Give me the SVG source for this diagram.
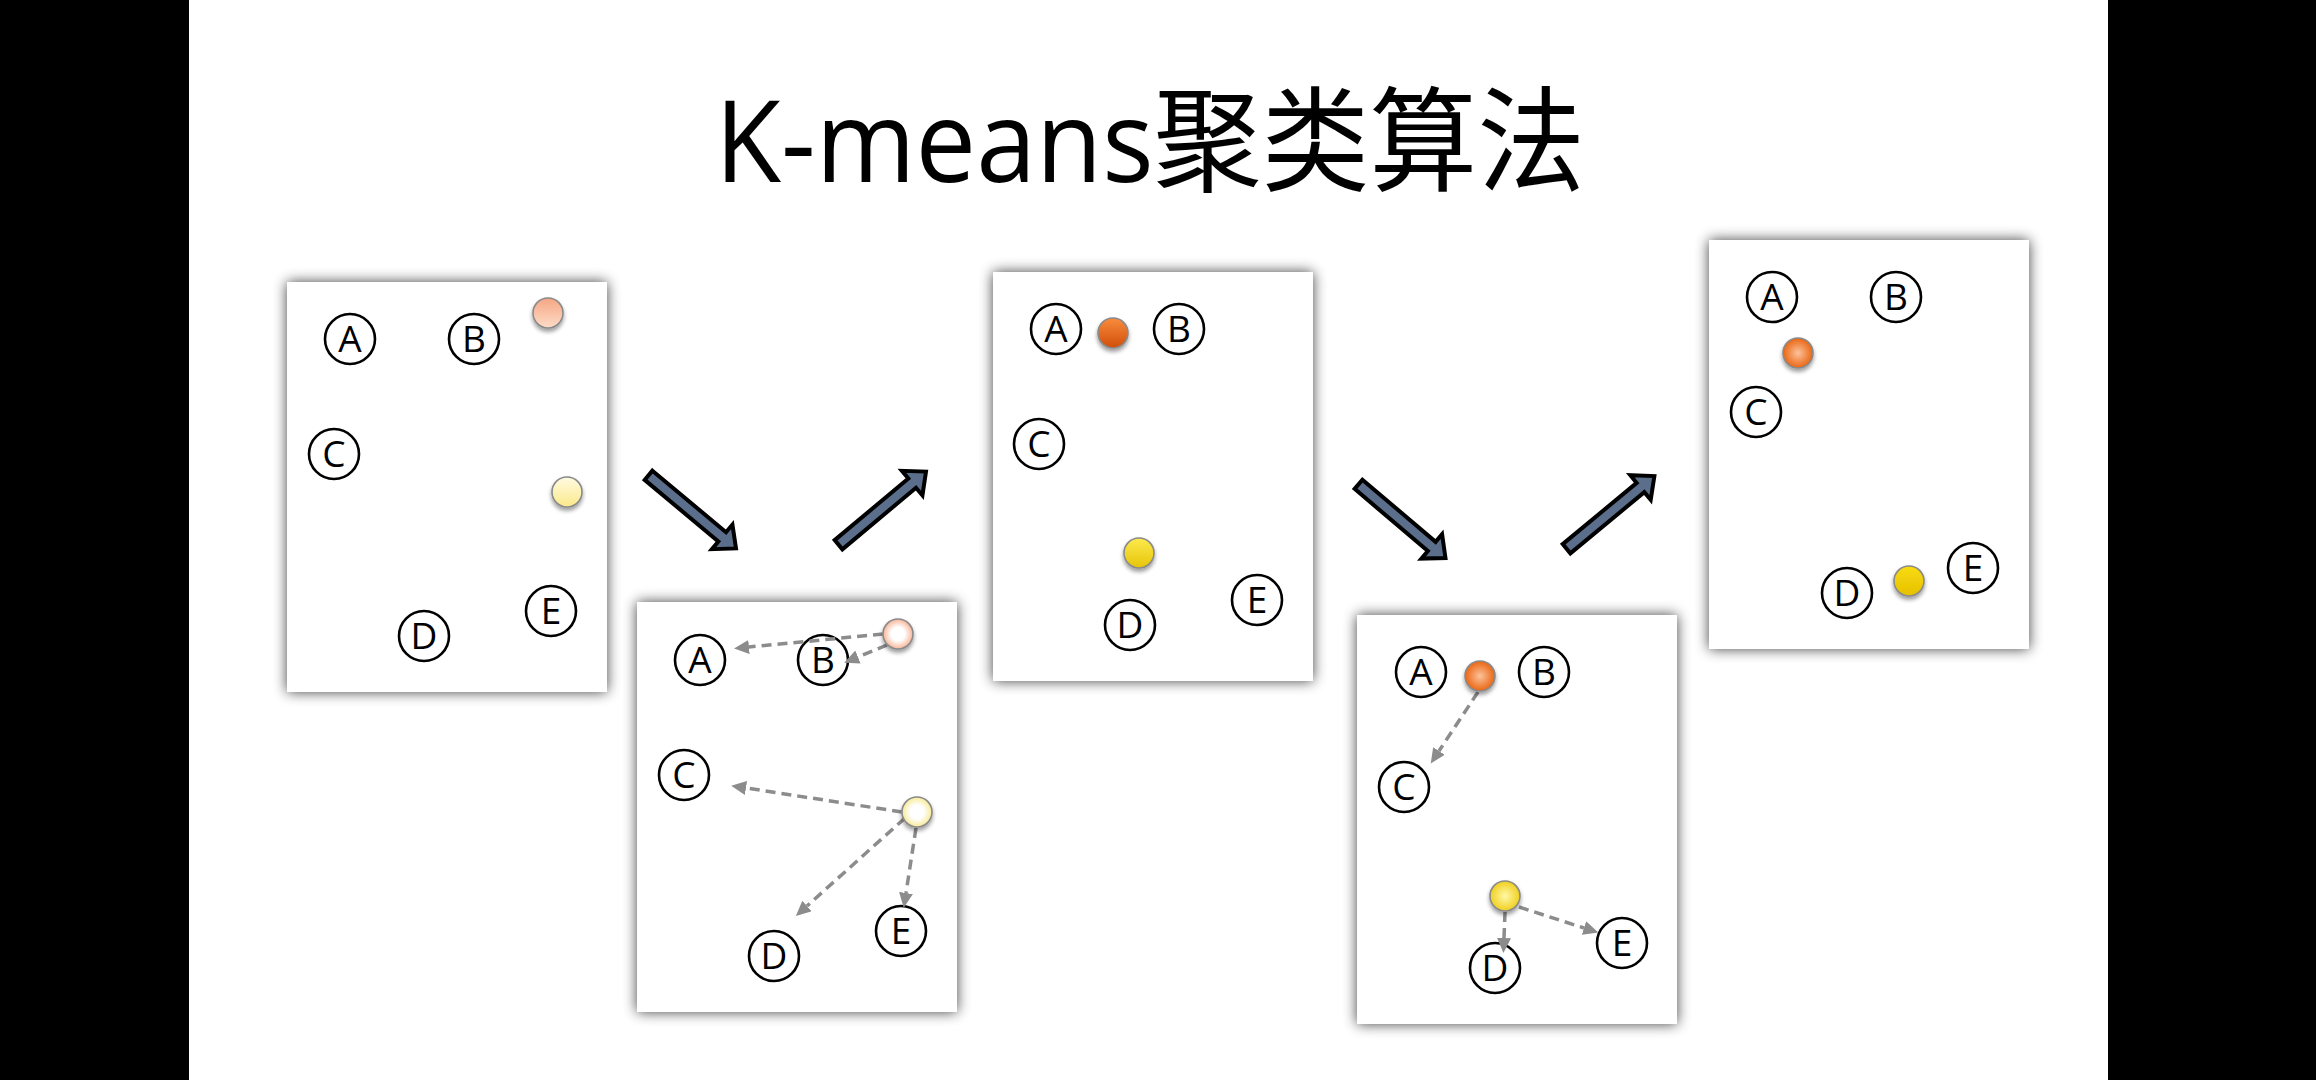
<svg xmlns="http://www.w3.org/2000/svg" width="2316" height="1080" viewBox="0 0 2316 1080">
<defs>
<style>
.panel{fill:#ffffff;filter:url(#pshadow)}
.pt circle{fill:#ffffff;stroke:#000;stroke-width:2.6}
.pt text{font-family:"Open Sans","DejaVu Sans",sans-serif;font-size:37px;fill:#000;text-anchor:middle}
.ball{stroke:#8a8a8a;stroke-width:1.6;filter:url(#bshadow)}
.dash{stroke:#8c8c8c;stroke-width:3.5;stroke-dasharray:10 6;fill:none;marker-end:url(#ah)}
.big{fill:#5b6f8d;stroke:#000;stroke-width:4;stroke-linejoin:miter}
.title{font-family:"Open Sans","Noto Sans CJK SC",sans-serif;font-size:114px;fill:#000;text-anchor:middle}
</style>
<filter id="pshadow" x="-10%" y="-10%" width="120%" height="120%">
<feGaussianBlur in="SourceAlpha" stdDeviation="7"/>
<feComponentTransfer><feFuncA type="linear" slope="0.75"/></feComponentTransfer>
<feMerge><feMergeNode/><feMergeNode in="SourceGraphic"/></feMerge>
</filter>
<filter id="bshadow" x="-50%" y="-50%" width="200%" height="220%">
<feGaussianBlur in="SourceAlpha" stdDeviation="2"/>
<feOffset dy="3"/>
<feComponentTransfer><feFuncA type="linear" slope="0.4"/></feComponentTransfer>
<feMerge><feMergeNode/><feMergeNode in="SourceGraphic"/></feMerge>
</filter>
<marker id="ah" markerUnits="userSpaceOnUse" markerWidth="16" markerHeight="14" refX="0" refY="7" orient="auto">
<path d="M0,0 L15,7 L0,14 z" fill="#8c8c8c"/>
</marker>
<linearGradient id="peachL" x1="0" y1="0" x2="0" y2="1"><stop offset="0" stop-color="#f6a683"/><stop offset="1" stop-color="#fddcc8"/></linearGradient>
<linearGradient id="paleYL" x1="0" y1="0" x2="0" y2="1"><stop offset="0" stop-color="#fffbe2"/><stop offset="1" stop-color="#fbe98a"/></linearGradient>
<radialGradient id="peachR" cx="0.5" cy="0.5" r="0.5"><stop offset="0.45" stop-color="#ffffff"/><stop offset="1" stop-color="#f8b496"/></radialGradient>
<radialGradient id="paleYR" cx="0.5" cy="0.5" r="0.5"><stop offset="0.45" stop-color="#ffffff"/><stop offset="1" stop-color="#f7ea96"/></radialGradient>
<linearGradient id="orangeL" x1="0" y1="0" x2="0" y2="1"><stop offset="0" stop-color="#fa8c3c"/><stop offset="1" stop-color="#d04e0a"/></linearGradient>
<linearGradient id="yellowL" x1="0" y1="0" x2="0" y2="1"><stop offset="0" stop-color="#fcea4c"/><stop offset="1" stop-color="#e6c40a"/></linearGradient>
<radialGradient id="orangeR" cx="0.5" cy="0.5" r="0.5"><stop offset="0" stop-color="#fcc29c"/><stop offset="1" stop-color="#ea6612"/></radialGradient>
<radialGradient id="yellowR" cx="0.5" cy="0.5" r="0.5"><stop offset="0" stop-color="#fff8a8"/><stop offset="1" stop-color="#f0d01e"/></radialGradient>
<linearGradient id="yellowS" x1="0" y1="0" x2="0" y2="1"><stop offset="0" stop-color="#f8dc10"/><stop offset="1" stop-color="#e6c000"/></linearGradient>
</defs>

<rect x="0" y="0" width="2316" height="1080" fill="#ffffff"/>
<rect x="0" y="0" width="189" height="1080" fill="#000"/>
<rect x="2108" y="0" width="208" height="1080" fill="#000"/>

<text id="title" class="title" x="1150" y="182" textLength="870" lengthAdjust="spacingAndGlyphs">K-means聚类算法</text>

<g id="panel1" transform="translate(287,282)">
<rect class="panel" x="0" y="0" width="320" height="410"/>
<g id="p1-A" class="pt"><circle cx="63" cy="57" r="25"/><text x="63" y="70">A</text></g>
<g id="p1-B" class="pt"><circle cx="187" cy="57" r="25"/><text x="187" y="70">B</text></g>
<g id="p1-C" class="pt"><circle cx="47" cy="172" r="25"/><text x="47" y="185">C</text></g>
<g id="p1-D" class="pt"><circle cx="137" cy="354" r="25"/><text x="137" y="367">D</text></g>
<g id="p1-E" class="pt"><circle cx="264" cy="329" r="25"/><text x="264" y="342">E</text></g>
<circle id="p1-k1" class="ball" cx="261" cy="31" r="15" fill="url(#peachL)"/>
<circle id="p1-k2" class="ball" cx="280" cy="210" r="15" fill="url(#paleYL)"/>
</g>

<g id="panel2" transform="translate(637,602)">
<rect class="panel" x="0" y="0" width="320" height="410"/>
<g id="p2-A" class="pt"><circle cx="63" cy="58" r="25"/><text x="63" y="71">A</text></g>
<g id="p2-B" class="pt"><circle cx="186" cy="58" r="25"/><text x="186" y="71">B</text></g>
<g id="p2-C" class="pt"><circle cx="47" cy="173" r="25"/><text x="47" y="186">C</text></g>
<g id="p2-D" class="pt"><circle cx="137" cy="354" r="25"/><text x="137" y="367">D</text></g>
<g id="p2-E" class="pt"><circle cx="264" cy="329" r="25"/><text x="264" y="342">E</text></g>
</g>

<g id="panel3" transform="translate(993,272)">
<rect class="panel" x="0" y="0" width="320" height="409"/>
<g id="p3-A" class="pt"><circle cx="63" cy="57" r="25"/><text x="63" y="70">A</text></g>
<g id="p3-B" class="pt"><circle cx="186" cy="57" r="25"/><text x="186" y="70">B</text></g>
<g id="p3-C" class="pt"><circle cx="46" cy="172" r="25"/><text x="46" y="185">C</text></g>
<g id="p3-D" class="pt"><circle cx="137" cy="353" r="25"/><text x="137" y="366">D</text></g>
<g id="p3-E" class="pt"><circle cx="264" cy="328" r="25"/><text x="264" y="341">E</text></g>
<circle id="p3-k1" class="ball" cx="120" cy="61" r="15" fill="url(#orangeL)"/>
<circle id="p3-k2" class="ball" cx="146" cy="281" r="15" fill="url(#yellowL)"/>
</g>

<g id="panel4" transform="translate(1357,615)">
<rect class="panel" x="0" y="0" width="320" height="409"/>
<g id="p4-A" class="pt"><circle cx="64" cy="57" r="25"/><text x="64" y="70">A</text></g>
<g id="p4-B" class="pt"><circle cx="187" cy="57" r="25"/><text x="187" y="70">B</text></g>
<g id="p4-C" class="pt"><circle cx="47" cy="172" r="25"/><text x="47" y="185">C</text></g>
<g id="p4-D" class="pt"><circle cx="138" cy="353" r="25"/><text x="138" y="366">D</text></g>
<g id="p4-E" class="pt"><circle cx="265" cy="328" r="25"/><text x="265" y="341">E</text></g>
</g>

<g id="panel5" transform="translate(1709,240)">
<rect class="panel" x="0" y="0" width="320" height="409"/>
<g id="p5-A" class="pt"><circle cx="63" cy="57" r="25"/><text x="63" y="70">A</text></g>
<g id="p5-B" class="pt"><circle cx="187" cy="57" r="25"/><text x="187" y="70">B</text></g>
<g id="p5-C" class="pt"><circle cx="47" cy="172" r="25"/><text x="47" y="185">C</text></g>
<g id="p5-D" class="pt"><circle cx="138" cy="353" r="25"/><text x="138" y="366">D</text></g>
<g id="p5-E" class="pt"><circle cx="264" cy="328" r="25"/><text x="264" y="341">E</text></g>
<circle id="p5-k1" class="ball" cx="89" cy="113" r="15" fill="url(#orangeR)"/>
<circle id="p5-k2" class="ball" cx="200" cy="341" r="15" fill="url(#yellowS)"/>
</g>

<g id="connectors">
<line class="dash" x1="883" y1="634" x2="749" y2="647"/>
<line class="dash" x1="887" y1="645" x2="858" y2="657"/>
<line class="dash" x1="902" y1="812" x2="746" y2="788"/>
<line class="dash" x1="905" y1="818" x2="807" y2="906"/>
<line class="dash" x1="916" y1="828" x2="906" y2="893"/>
<line class="dash" x1="1478" y1="692" x2="1439" y2="751"/>
<line class="dash" x1="1505" y1="912" x2="1504" y2="938"/>
<line class="dash" x1="1519" y1="907" x2="1584" y2="928"/>
<path class="big" transform="translate(647,474) rotate(39.9)" d="M2,-6 H98 V-16 L116,0 L98,16 V6 H2 Z"/>
<path class="big" transform="translate(837,546) rotate(-39.9)" d="M2,-6 H98 V-16 L116,0 L98,16 V6 H2 Z"/>
<path class="big" transform="translate(1357,483) rotate(40.3)" d="M2,-6 H98 V-16 L116,0 L98,16 V6 H2 Z"/>
<path class="big" transform="translate(1565,550) rotate(-39.6)" d="M2,-6 H98 V-16 L116,0 L98,16 V6 H2 Z"/>
</g>

<g id="centroids-step2">
<circle id="p2-k1" class="ball" cx="898" cy="634" r="15" fill="url(#peachR)"/>
<circle id="p2-k2" class="ball" cx="917" cy="812" r="15" fill="url(#paleYR)"/>
<circle id="p4-k1" class="ball" cx="1480" cy="676" r="15" fill="url(#orangeR)"/>
<circle id="p4-k2" class="ball" cx="1505" cy="896" r="15" fill="url(#yellowR)"/>
</g>
</svg>
